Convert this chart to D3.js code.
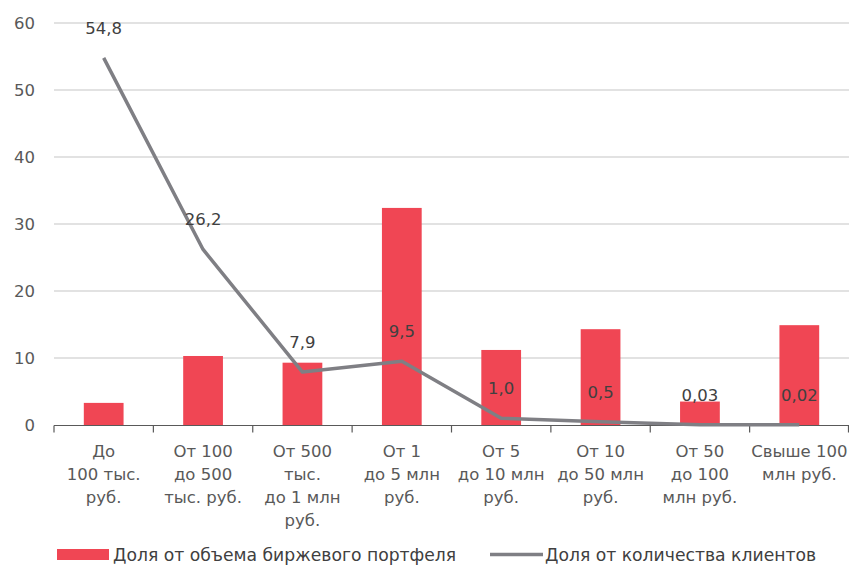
<!DOCTYPE html>
<html>
<head>
<meta charset="utf-8">
<script src="https://cdn.jsdelivr.net/npm/d3@7/dist/d3.min.js"></script>
<style>
  html, body { margin: 0; padding: 0; background: #fff; }
  svg { display: block; font-family: "DejaVu Sans", "Noto Sans", sans-serif; }
</style>
</head>
<body>
<svg id="chart" width="849" height="565"></svg>
<script>
// Portfolio size brackets (x-axis categories, each split into lines)
const categories = [
  ["До", "100 тыс.", "руб."],
  ["От 100", "до 500", "тыс. руб."],
  ["От 500", "тыс.", "до 1 млн", "руб."],
  ["От 1", "до 5 млн", "руб."],
  ["От 5", "до 10 млн", "руб."],
  ["От 10", "до 50 млн", "руб."],
  ["От 50", "до 100", "млн руб."],
  ["Свыше 100", "млн руб."]
];
// Share of exchange portfolio volume, %
const volumeShare = [3.3, 10.3, 9.3, 32.4, 11.2, 14.3, 3.5, 14.9];
// Share of number of clients, %
const clientShare = [54.8, 26.2, 7.9, 9.5, 1.0, 0.5, 0.03, 0.02];
const clientLabels = ["54,8", "26,2", "7,9", "9,5", "1,0", "0,5", "0,03", "0,02"];
const yTicks = [0, 10, 20, 30, 40, 50, 60];
const legendNames = ["Доля от объема биржевого портфеля", "Доля от количества клиентов"];

const svg = d3.select("#chart");
const m = { left: 54, right: 849, top: 23, bottom: 425 };
const fs = 16.5;

const x = d3.scaleBand().domain(d3.range(categories.length)).range([m.left, m.right]).paddingInner(0).paddingOuter(0);
const y = d3.scaleLinear().domain([0, 60]).range([m.bottom, m.top]);
const barW = x.bandwidth() * 0.4;

// Horizontal gridlines
svg.append("g").selectAll("line").data(yTicks.filter(d => d > 0)).join("line")
  .attr("x1", m.left).attr("x2", m.right)
  .attr("y1", d => y(d)).attr("y2", d => y(d))
  .attr("stroke", "#d9d9d9").attr("stroke-width", 1.3);

// Y tick labels
svg.append("g").selectAll("text").data(yTicks).join("text")
  .attr("x", 35).attr("y", d => y(d)).attr("dy", "0.35em")
  .attr("text-anchor", "end").attr("fill", "#595959").attr("font-size", fs)
  .text(d => d);

// Bars
svg.append("g").selectAll("rect").data(volumeShare).join("rect")
  .attr("x", (d, i) => x(i) + (x.bandwidth() - barW) / 2)
  .attr("width", barW)
  .attr("y", d => y(d))
  .attr("height", d => y(0) - y(d))
  .attr("fill", "#f04654");

// X axis with tick marks at category boundaries
const xAxis = svg.append("g").attr("transform", `translate(0,${m.bottom + 0.5})`);
xAxis.append("line").attr("x1", m.left).attr("x2", m.right).attr("stroke", "#595959").attr("stroke-width", 1.2);
xAxis.selectAll("line.tick").data(d3.range(categories.length + 1)).join("line")
  .attr("class", "tick")
  .attr("x1", i => i < categories.length ? x(i) : m.right - 0.5)
  .attr("x2", i => i < categories.length ? x(i) : m.right - 0.5)
  .attr("y1", 0).attr("y2", 7).attr("stroke", "#595959").attr("stroke-width", 1.2);

// Category labels
const catG = svg.append("g").selectAll("text").data(categories).join("text")
  .attr("x", (d, i) => x(i) + x.bandwidth() / 2)
  .attr("y", 457)
  .attr("text-anchor", "middle").attr("fill", "#595959").attr("font-size", fs);
catG.selectAll("tspan").data(d => d).join("tspan")
  .attr("x", function () { return this.parentNode.getAttribute("x"); })
  .attr("dy", (d, i) => i === 0 ? 0 : 23)
  .text(d => d);

// Clients line
const line = d3.line().x((d, i) => x(i) + x.bandwidth() / 2).y(d => y(d));
svg.append("path").datum(clientShare)
  .attr("d", line).attr("fill", "none")
  .attr("stroke", "#7f7f84").attr("stroke-width", 3.5).attr("stroke-linejoin", "round");

// Line value labels
svg.append("g").selectAll("text").data(clientShare).join("text")
  .attr("x", (d, i) => x(i) + x.bandwidth() / 2)
  .attr("y", d => y(d) - 24)
  .attr("text-anchor", "middle").attr("fill", "#404040").attr("font-size", fs)
  .text((d, i) => clientLabels[i]);

// Legend
const lg = svg.append("g").attr("font-size", 17.2).attr("fill", "#404040");
lg.append("rect").attr("x", 57).attr("y", 549).attr("width", 52).attr("height", 11).attr("fill", "#f04654");
lg.append("text").attr("x", 113).attr("y", 561).text(legendNames[0]);
lg.append("line").attr("x1", 490).attr("x2", 543).attr("y1", 554.5).attr("y2", 554.5)
  .attr("stroke", "#7f7f84").attr("stroke-width", 3.5);
lg.append("text").attr("x", 545).attr("y", 561).text(legendNames[1]);
</script>
</body>
</html>
